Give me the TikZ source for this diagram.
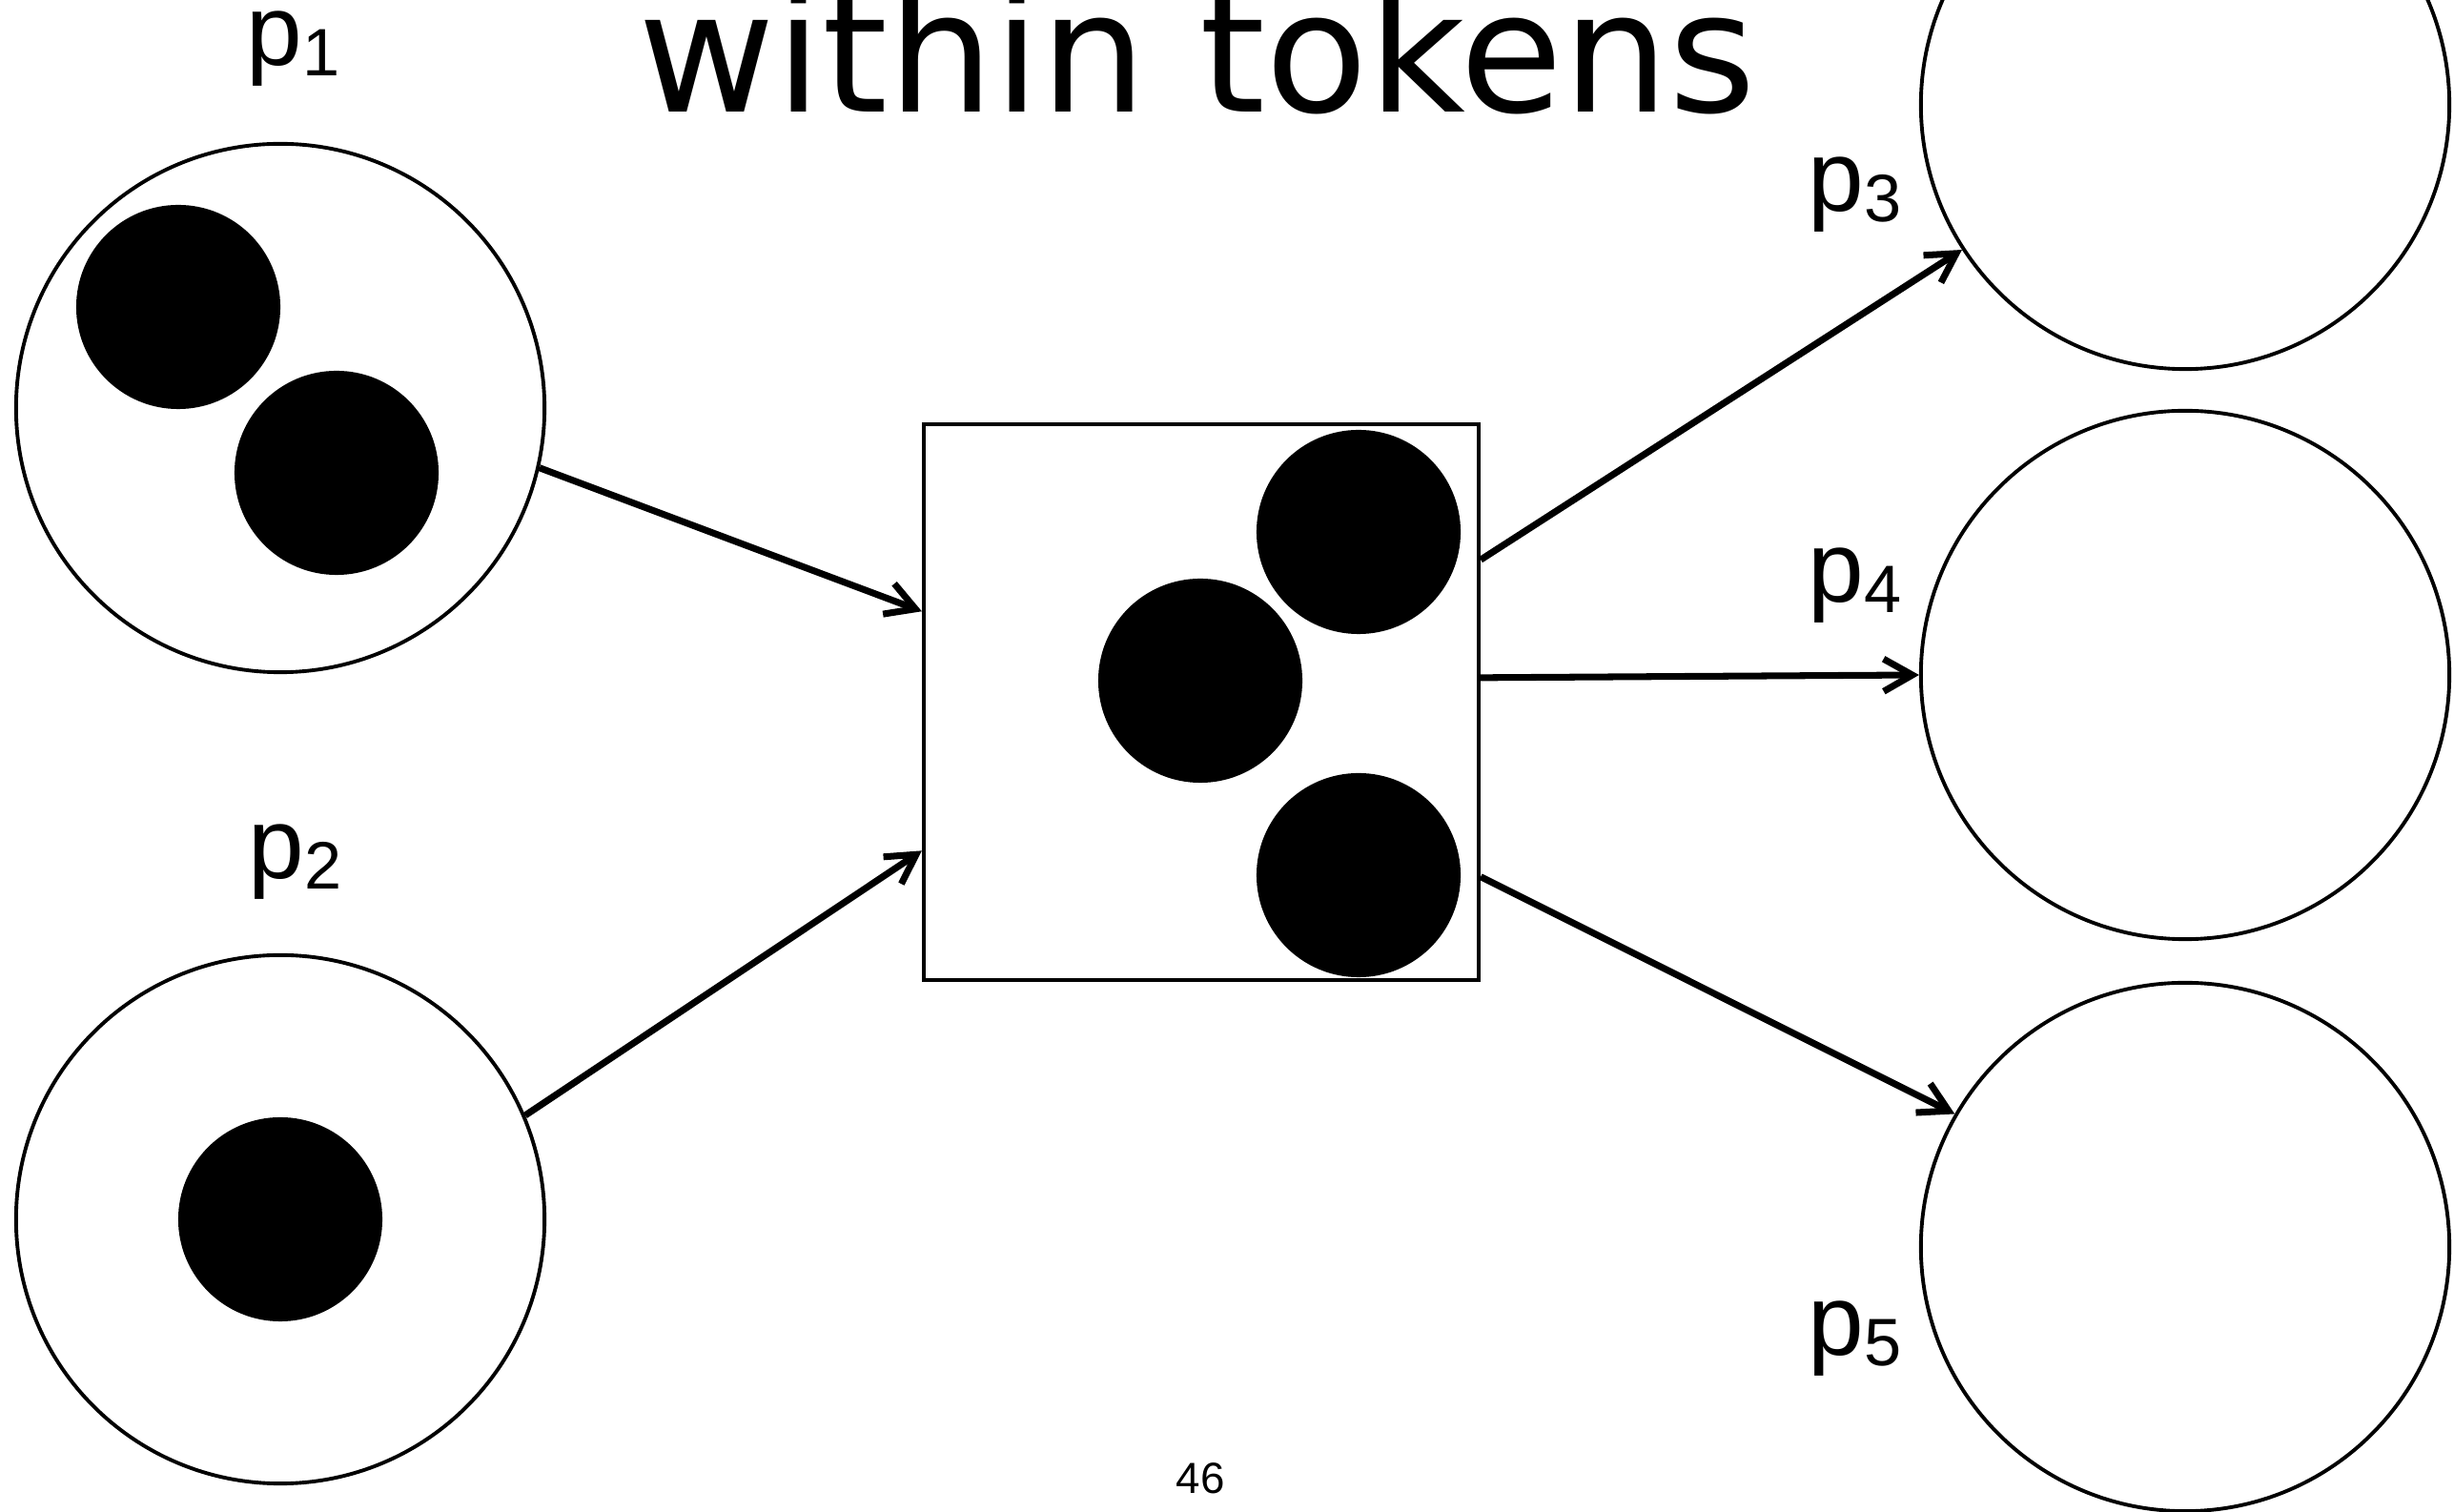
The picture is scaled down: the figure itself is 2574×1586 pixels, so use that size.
\documentclass[tikz,border=0pt]{standalone}
\usepackage{fontspec}
\setmainfont{Liberation Sans}
\newfontfamily\titlefont{DejaVu Sans}
\usetikzlibrary{arrows.meta,positioning}

\newcommand{\plab}[1]{p\raisebox{-3pt}{\fontsize{20}{20}\selectfont #1}}

\begin{document}
\begin{tikzpicture}[x=0.01cm,y=-0.01cm]
\tikzset{place/.style={circle,draw,line width=1.1pt,minimum size=5.54cm,inner sep=0pt},
token/.style={circle,fill=black,minimum size=2.14cm,inner sep=0pt},
trans/.style={rectangle,draw,line width=1.1pt,minimum size=5.82cm,inner sep=0pt},
lab/.style={anchor=base west,inner sep=0pt,font=\fontsize{30}{30}\selectfont},
arc/.style={line width=2pt,-{Straight Barb[length=0.3cm,width=0.34cm]}}}
\useasboundingbox (0,0) rectangle (2574,1586);
\clip (0,0) rectangle (2574,1586);

\node[anchor=base,inner sep=0pt,font=\titlefont\fontsize{50}{50}\selectfont] (title) at (1256,118) {within tokens};

% places
\node[place] (p1) at (294,428) {};
\node[place] (p2) at (294,1279) {};
\node[place] (p3) at (2292,110) {};
\node[place] (p4) at (2292,708) {};
\node[place] (p5) at (2292,1308) {};
\node[trans] (t) at (1260,736.5) {};

% tokens
\node[token] (tok11) at (187,322) {};
\node[token] (tok12) at (353,496) {};
\node[token] (tok21) at (294,1279) {};
\node[token] (tokt1) at (1425,558) {};
\node[token] (tokt2) at (1259,714) {};
\node[token] (tokt3) at (1425,918) {};

% labels
\node[lab] (l1) at (258,69) {\plab{1}};
\node[lab] (l2) at (260,922) {\plab{2}};
\node[lab] (l3) at (1896,222) {\plab{3}};
\node[lab] (l4) at (1896,632) {\plab{4}};
\node[lab] (l5) at (1896,1422) {\plab{5}};

\draw[arc] (p1.-13) -- (t.162);
\draw[arc] (p2.23) -- (t.-152);
\draw[arc] (t.27) -- (p3.213);
\draw[arc] (t.5) -- (p4.west);
\draw[arc] (t.-32) -- (p5.150);

\node[font=\fontsize{13}{13}\selectfont] (page) at (1259,1551) {46};
\end{tikzpicture}
\end{document}
